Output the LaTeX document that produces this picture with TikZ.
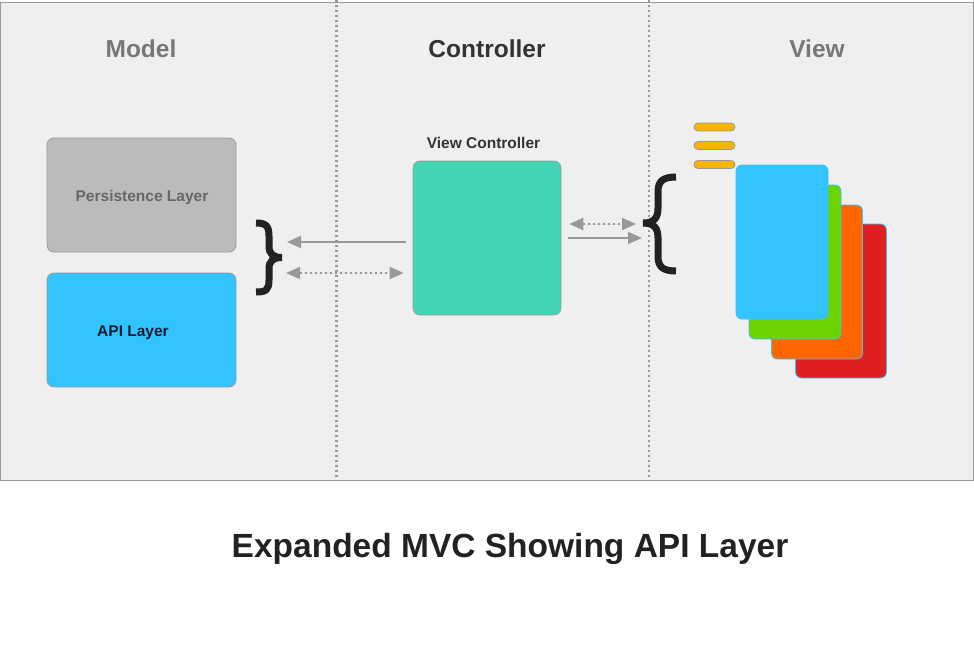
\documentclass[tikz,border=0pt]{standalone}
\usepackage{fontspec}
\setmainfont{Liberation Sans}
\usetikzlibrary{arrows.meta}
\definecolor{bgpanel}{HTML}{EFEFEF}
\definecolor{edgegray}{HTML}{999999}
\definecolor{sepgray}{HTML}{999999}
\definecolor{titlegray}{HTML}{777777}
\definecolor{titledark}{HTML}{333333}
\definecolor{persfill}{HTML}{BBBBBB}
\definecolor{perstext}{HTML}{666666}
\definecolor{apiblue}{HTML}{33C4FF}
\definecolor{apitext}{HTML}{111A2E}
\definecolor{teal}{HTML}{42D6B4}
\definecolor{pillorange}{HTML}{F8B400}
\definecolor{cardgreen}{HTML}{6CD400}
\definecolor{cardorange}{HTML}{FF6600}
\definecolor{cardred}{HTML}{E02020}
\definecolor{bracecol}{HTML}{222222}
\begin{document}
\begin{tikzpicture}[x=1pt,y=-1pt,
  coltitle/.style={font=\fontsize{24.5}{28}\selectfont\bfseries, anchor=base},
  boxlabel/.style={font=\fontsize{15.5}{18}\selectfont\bfseries, anchor=base},
  layerbox/.style={draw=edgegray, line width=0.8pt, rounded corners=7pt, minimum width=189pt, minimum height=114pt, inner sep=0pt},
  pill/.style={draw=edgegray, fill=pillorange, line width=0.8pt, rounded corners=4pt, minimum width=41pt, minimum height=8pt, inner sep=0pt},
  card/.style={draw=apiblue, line width=0.8pt, rounded corners=6pt, minimum width=92pt, minimum height=154pt, inner sep=0pt},
  separator/.style={draw=sepgray, line width=2.6pt, dash pattern=on 2.4pt off 2.6pt},
  tipshape/.style={-{Triangle[length=14pt,width=12pt]}},
  solidarr/.style={draw=edgegray, fill=edgegray, line width=2pt, tipshape},
  dottedarr/.style={draw=edgegray, fill=edgegray, line width=2pt, dash pattern=on 2.5pt off 2.5pt, {Triangle[length=14pt,width=12pt]}-{Triangle[length=14pt,width=12pt]}},
  bracestyle/.style={draw=bracecol, line width=7pt, line cap=butt, line join=miter}
]
\useasboundingbox (0,0) rectangle (974,648);
\fill[white] (0,0) rectangle (974,648);
\draw[fill=bgpanel, draw=edgegray, line width=1pt] (0.5,2) rectangle (973,480);

% separators
\coordinate (s1top) at (336.5,0);
\coordinate (s1bot) at (336.5,480);
\coordinate (s2top) at (649,0);
\coordinate (s2bot) at (649,480);
\draw[separator] (s1top) -- (s1bot);
\draw[separator] (s2top) -- (s2bot);

% column titles
\node[coltitle, text=titlegray] (tmodel) at (141,57.5) {Model};
\node[coltitle, text=titledark] (tctrl) at (487,57) {Controller};
\node[coltitle, text=titlegray] (tview) at (817,57) {View};

% model boxes
\node[layerbox, fill=persfill] (pers) at (141.5,195) {};
\node[boxlabel, text=perstext] (perslbl) at (142,201) {Persistence Layer};
\node[layerbox, fill=apiblue] (api) at (141.5,330) {};
\node[boxlabel, text=apitext] (apilbl) at (133,336.5) {API Layer};

% view controller
\node[boxlabel, text=titledark] (vclbl) at (483.5,148) {View Controller};
\node[draw=edgegray, line width=0.6pt, fill=teal, rounded corners=7pt, minimum width=148pt, minimum height=154pt, inner sep=0pt] (vc) at (487,238) {};

% right brace }
\draw[bracestyle] (256,223) .. controls (266,223) and (269,226) .. (269,236)
  -- (269,246) .. controls (269,254) and (273,257.5) .. (282,257.5)
  .. controls (273,257.5) and (269,261) .. (269,269)
  -- (269,280) .. controls (269,290) and (266,292) .. (256,292);
\coordinate (rbrace) at (282,257.5);

% left brace {
\draw[bracestyle] (676,177) .. controls (663,177) and (658,181) .. (658,192)
  -- (658,208) .. controls (658,218) and (654,223) .. (643,223)
  .. controls (654,223) and (658,228) .. (658,238)
  -- (658,256) .. controls (658,267) and (663,271) .. (676,271);
\coordinate (lbrace) at (643,223);

% arrows between model and controller
\coordinate (aLsolidEnd) at (287,242);
\coordinate (aLdotEnd) at (286,273);
\draw[solidarr] ([xshift=-7pt]vc.west |- aLsolidEnd) -- (aLsolidEnd);
\draw[dottedarr] (aLdotEnd) -- ([xshift=-9pt]vc.west |- aLdotEnd);

% arrows between controller and view
\coordinate (aRdotEnd) at (636,224);
\coordinate (aRsolidEnd) at (642,238);
\draw[dottedarr] ([xshift=8pt]vc.east |- aRdotEnd) -- (aRdotEnd);
\draw[solidarr] ([xshift=7pt]vc.east |- aRsolidEnd) -- (aRsolidEnd);

% pills
\node[pill] (p1) at (714.5,127) {};
\node[pill] (p2) at (714.5,145.5) {};
\node[pill] (p3) at (714.5,164.5) {};

% cards
\node[card, fill=cardred, minimum width=91pt] (c4) at (841,301) {};
\node[card, fill=cardorange, minimum width=91pt] (c3) at (817,282) {};
\node[card, fill=cardgreen] (c2) at (795,262) {};
\node[card, fill=apiblue] (c1) at (782,242) {};

% caption
\node[font=\fontsize{33.5}{38}\selectfont\bfseries, text=bracecol, anchor=base] (caption) at (510,557) {Expanded MVC Showing API Layer};
\end{tikzpicture}
\end{document}
